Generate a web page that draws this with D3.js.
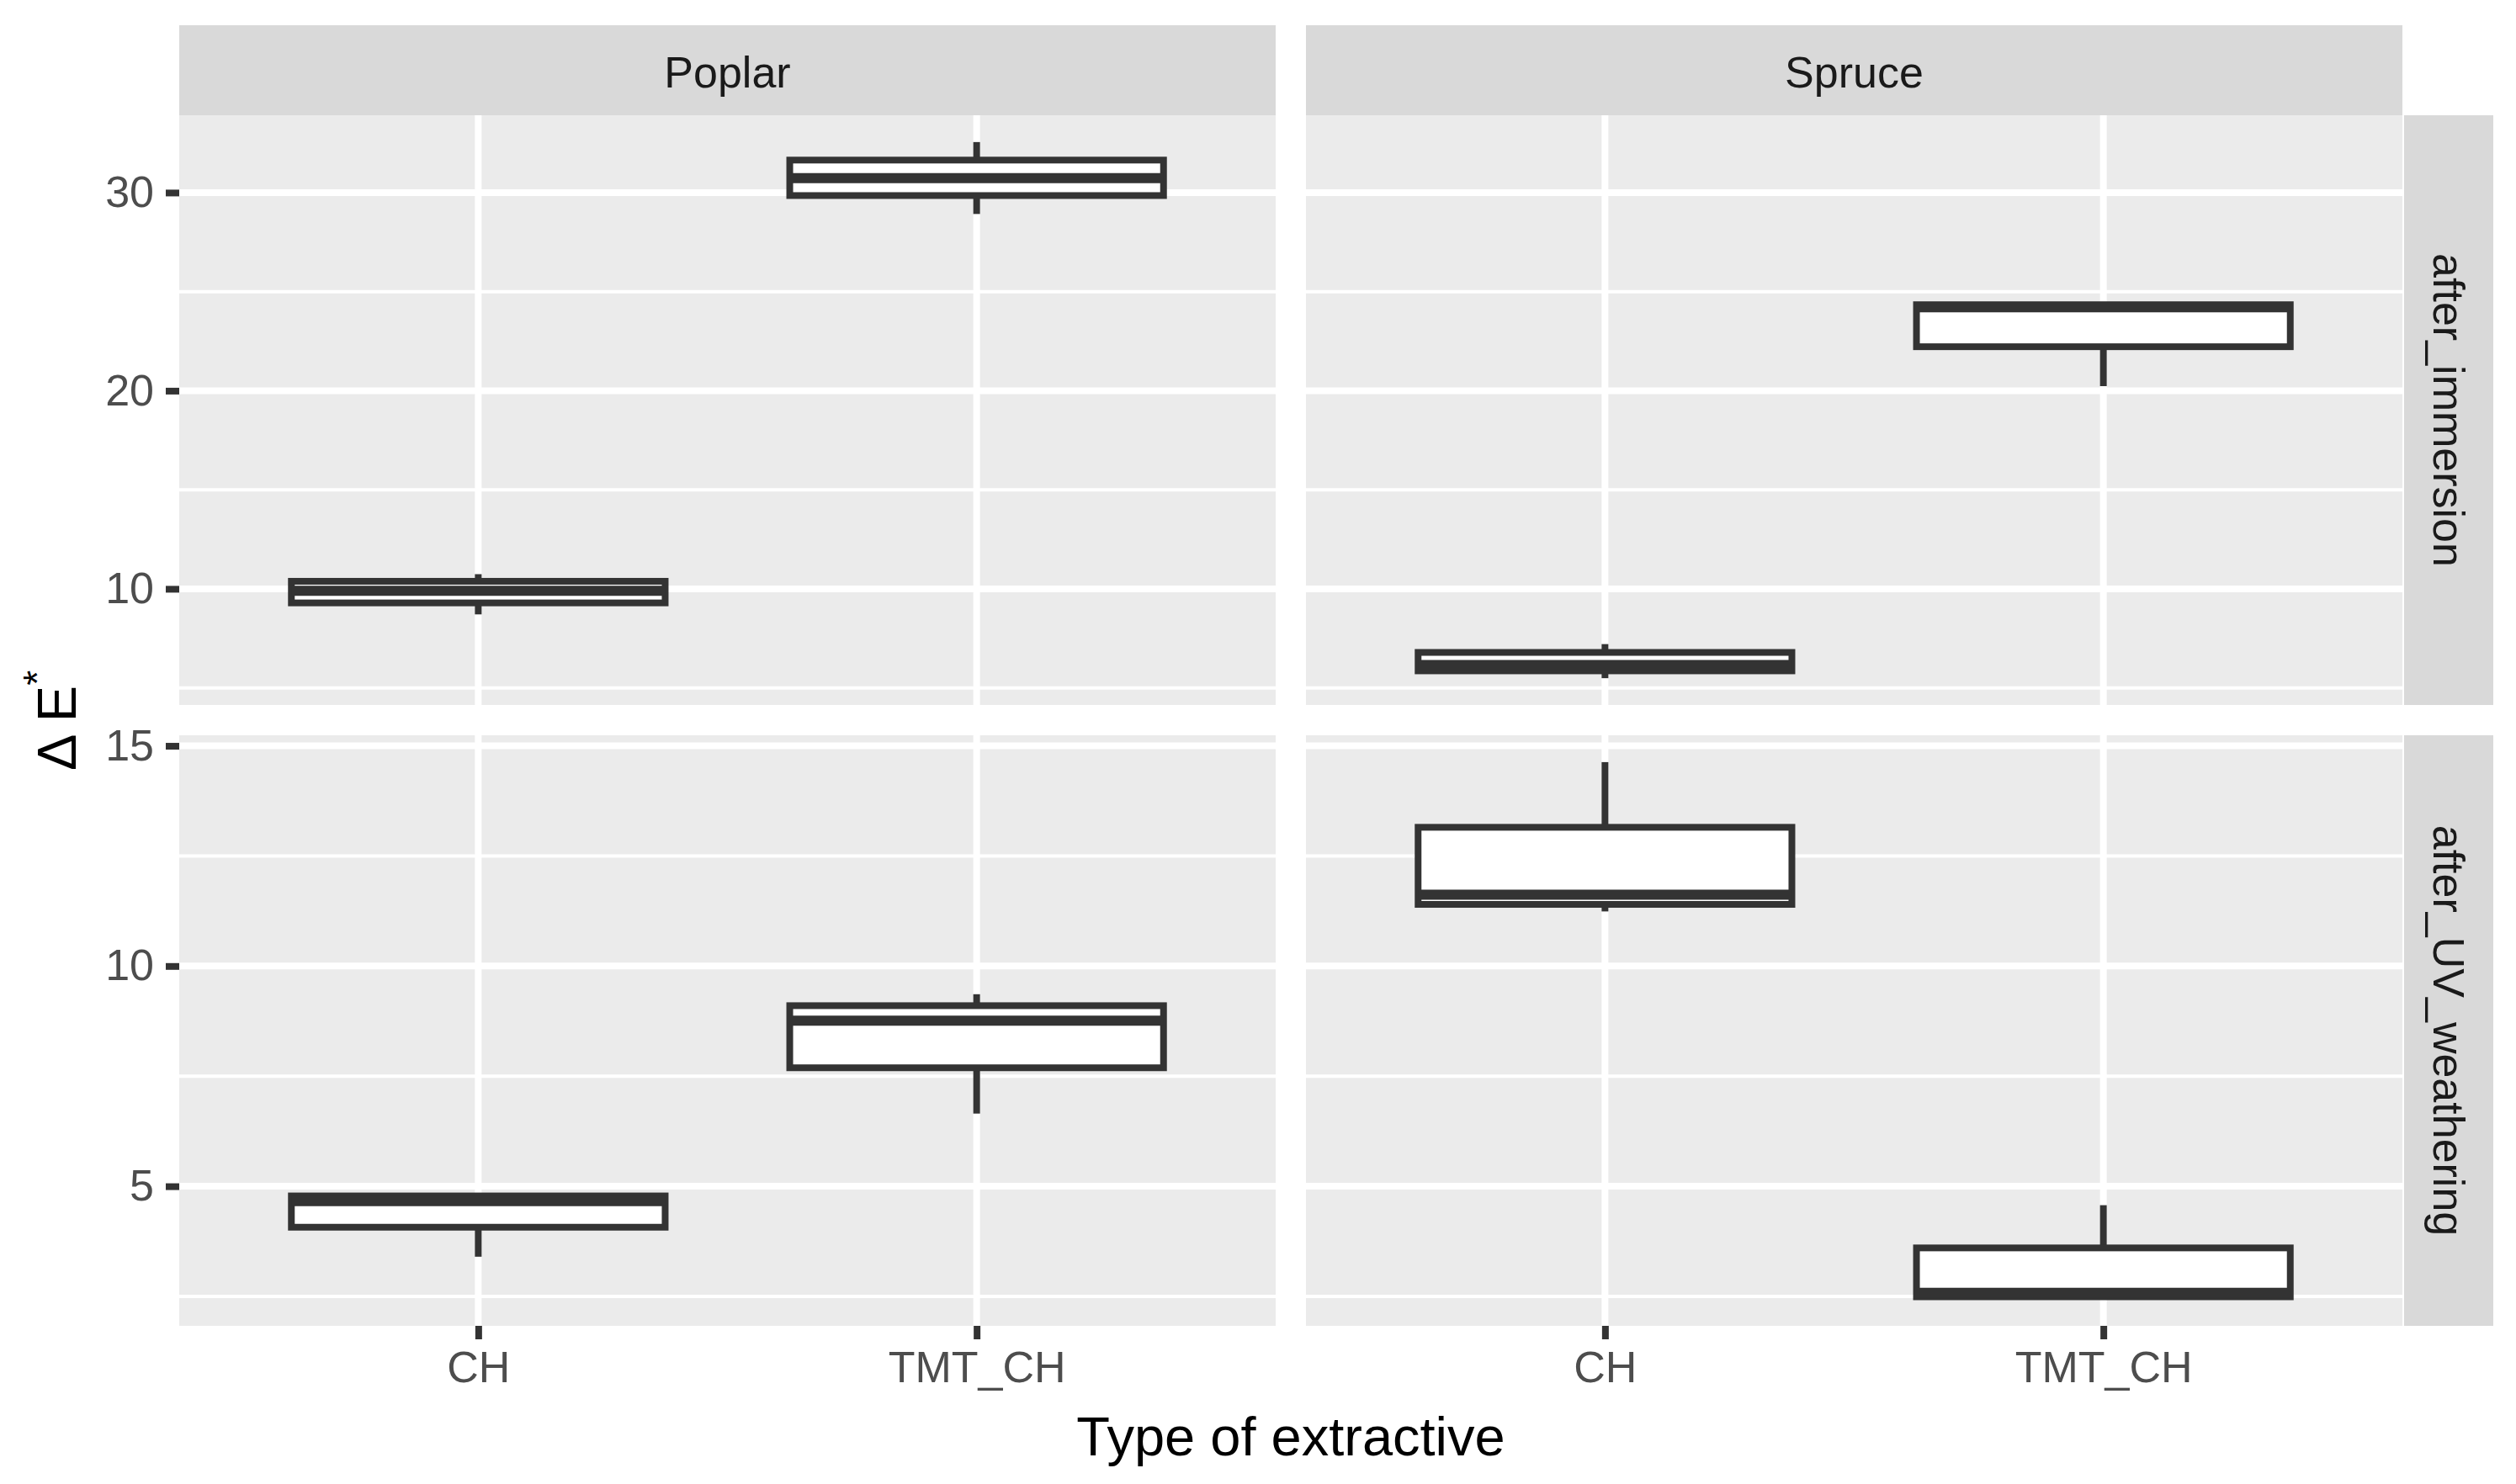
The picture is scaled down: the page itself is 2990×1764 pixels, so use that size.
<!DOCTYPE html>
<html>
<head>
<meta charset="utf-8">
<script src="https://cdn.jsdelivr.net/npm/d3@7"></script>
<style>
  html, body { margin: 0; padding: 0; background: #ffffff; }
  svg { display: block; }
</style>
</head>
<body>
<script>
// ---------------- DATA ----------------
const categories = ["CH", "TMT_CH"];
const woods = ["Poplar", "Spruce"];
const conditions = ["after_immersion", "after_UV_weathering"];
// each box: [min, q1, median, q3, max], in order of categories
const poplarImmersion = [[8.71, 9.29, 9.90, 10.38, 10.74], [28.92, 29.85, 30.73, 31.64, 32.55]];
const spruceImmersion = [[5.49, 5.86, 6.15, 6.79, 7.21], [20.23, 22.22, 24.21, 24.34, 24.40]];
const poplarUV = [[3.40, 4.07, 4.66, 4.78, 4.80], [6.65, 7.69, 8.76, 9.10, 9.36]];
const spruceUV = [[11.24, 11.40, 11.62, 13.15, 14.63], [2.44, 2.49, 2.58, 3.60, 4.57]];
const immersionTicks = [10, 20, 30];
const immersionMinor = [5, 15, 25];
const uvTicks = [5, 10, 15];
const uvMinor = [2.5, 7.5, 12.5];
const xTitle = "Type of extractive";

// ---------------- LAYOUT ----------------
const W = 2990, H = 1764;
const colX = [[213, 1516], [1552, 2855]];
const rowY = [[137, 838], [874, 1576]];
const stripTop = 30;
const stripRight = [2857, 2963];
const FONT = "'Liberation Sans', Arial, Helvetica, sans-serif";

const panelData = [
  [poplarImmersion, spruceImmersion],
  [poplarUV, spruceUV]
];
const rowTicks = [immersionTicks, uvTicks];
const rowMinor = [immersionMinor, uvMinor];

const svg = d3.select("body").append("svg")
  .attr("width", W).attr("height", H)
  .attr("viewBox", `0 0 ${W} ${H}`);

svg.append("rect").attr("width", W).attr("height", H).attr("fill", "#ffffff");

// y scales per row (ggplot-like 5% expansion)
const yScales = rowY.map((ry, r) => {
  const all = panelData[r].flat(2);
  const lo = d3.min(all), hi = d3.max(all);
  const pad = (hi - lo) * 0.05;
  return d3.scaleLinear().domain([lo - pad, hi + pad]).range([ry[1], ry[0]]);
});
const xScales = colX.map(cx => d3.scalePoint().domain(categories).range(cx).padding(0.6));

// strips on top
woods.forEach((w, c) => {
  const g = svg.append("g");
  g.append("rect").attr("x", colX[c][0]).attr("y", stripTop)
    .attr("width", colX[c][1] - colX[c][0]).attr("height", rowY[0][0] - stripTop)
    .attr("fill", "#D9D9D9");
  g.append("text").attr("x", (colX[c][0] + colX[c][1]) / 2)
    .attr("y", (stripTop + rowY[0][0]) / 2 + 2)
    .attr("text-anchor", "middle").attr("dominant-baseline", "central")
    .attr("font-family", FONT).attr("font-size", 52).attr("fill", "#1A1A1A")
    .text(w);
});

// strips on the right
conditions.forEach((cnd, r) => {
  const g = svg.append("g");
  g.append("rect").attr("x", stripRight[0]).attr("y", rowY[r][0])
    .attr("width", stripRight[1] - stripRight[0]).attr("height", rowY[r][1] - rowY[r][0])
    .attr("fill", "#D9D9D9");
  const cx = (stripRight[0] + stripRight[1]) / 2, cy = (rowY[r][0] + rowY[r][1]) / 2;
  g.append("text").attr("transform", `translate(${cx},${cy}) rotate(90)`)
    .attr("text-anchor", "middle").attr("dominant-baseline", "central")
    .attr("font-family", FONT).attr("font-size", 52).attr("fill", "#1A1A1A")
    .text(cnd);
});

// panels
for (let r = 0; r < 2; r++) {
  for (let c = 0; c < 2; c++) {
    const y = yScales[r], x = xScales[c];
    const g = svg.append("g");
    g.append("rect").attr("x", colX[c][0]).attr("y", rowY[r][0])
      .attr("width", colX[c][1] - colX[c][0]).attr("height", rowY[r][1] - rowY[r][0])
      .attr("fill", "#EBEBEB");
    // minor grid
    g.selectAll(".minor").data(rowMinor[r].filter(v => v >= y.domain()[0] && v <= y.domain()[1]))
      .enter().append("line")
      .attr("x1", colX[c][0]).attr("x2", colX[c][1])
      .attr("y1", d => y(d)).attr("y2", d => y(d))
      .attr("stroke", "#ffffff").attr("stroke-width", 4);
    // major grid
    g.selectAll(".major").data(rowTicks[r])
      .enter().append("line")
      .attr("x1", colX[c][0]).attr("x2", colX[c][1])
      .attr("y1", d => y(d)).attr("y2", d => y(d))
      .attr("stroke", "#ffffff").attr("stroke-width", 8);
    g.selectAll(".vmajor").data(categories)
      .enter().append("line")
      .attr("x1", d => x(d)).attr("x2", d => x(d))
      .attr("y1", rowY[r][0]).attr("y2", rowY[r][1])
      .attr("stroke", "#ffffff").attr("stroke-width", 8);

    const boxW = x.step() * 0.75;
    const boxes = panelData[r][c].map((s, i) => ({ cat: categories[i], s }));
    const bg = g.selectAll(".box").data(boxes).enter().append("g");
    // whiskers
    bg.append("line")
      .attr("x1", d => x(d.cat)).attr("x2", d => x(d.cat))
      .attr("y1", d => y(d.s[4])).attr("y2", d => y(d.s[3]))
      .attr("stroke", "#333333").attr("stroke-width", 8);
    bg.append("line")
      .attr("x1", d => x(d.cat)).attr("x2", d => x(d.cat))
      .attr("y1", d => y(d.s[1])).attr("y2", d => y(d.s[0]))
      .attr("stroke", "#333333").attr("stroke-width", 8);
    // box
    bg.append("rect")
      .attr("x", d => x(d.cat) - boxW / 2).attr("width", boxW)
      .attr("y", d => y(d.s[3])).attr("height", d => y(d.s[1]) - y(d.s[3]))
      .attr("fill", "#ffffff").attr("stroke", "#333333").attr("stroke-width", 8);
    // median
    bg.append("line")
      .attr("x1", d => x(d.cat) - boxW / 2).attr("x2", d => x(d.cat) + boxW / 2)
      .attr("y1", d => y(d.s[2])).attr("y2", d => y(d.s[2]))
      .attr("stroke", "#333333").attr("stroke-width", 12);
  }
}

// y axes (left column)
for (let r = 0; r < 2; r++) {
  const ax = svg.append("g").attr("transform", `translate(${colX[0][0]},0)`)
    .call(d3.axisLeft(yScales[r]).tickValues(rowTicks[r]).tickSize(16).tickPadding(14).tickFormat(d3.format("d")));
  ax.select(".domain").remove();
  ax.selectAll(".tick line").attr("stroke", "#333333").attr("stroke-width", 8);
  ax.selectAll(".tick text").attr("font-family", FONT).attr("font-size", 52).attr("fill", "#4D4D4D");
}
// x axes (bottom row)
for (let c = 0; c < 2; c++) {
  const ax = svg.append("g").attr("transform", `translate(0,${rowY[1][1]})`)
    .call(d3.axisBottom(xScales[c]).tickSize(16).tickPadding(14));
  ax.select(".domain").remove();
  ax.selectAll(".tick line").attr("stroke", "#333333").attr("stroke-width", 8);
  ax.selectAll(".tick text").attr("font-family", FONT).attr("font-size", 52).attr("fill", "#4D4D4D");
}

// axis titles
svg.append("text")
  .attr("x", (colX[0][0] + colX[1][1]) / 2).attr("y", 1730)
  .attr("text-anchor", "middle")
  .attr("font-family", FONT).attr("font-size", 65).attr("fill", "#000000")
  .text(xTitle);

const yt = svg.append("text")
  .attr("transform", `translate(90,${(rowY[0][0] + rowY[1][1]) / 2}) rotate(-90)`)
  .attr("text-anchor", "middle")
  .attr("font-family", FONT).attr("font-size", 65).attr("fill", "#000000");
yt.append("tspan").text("\u0394 E");
yt.append("tspan").attr("font-size", 46).attr("dy", -30).text("*");
</script>
</body>
</html>
